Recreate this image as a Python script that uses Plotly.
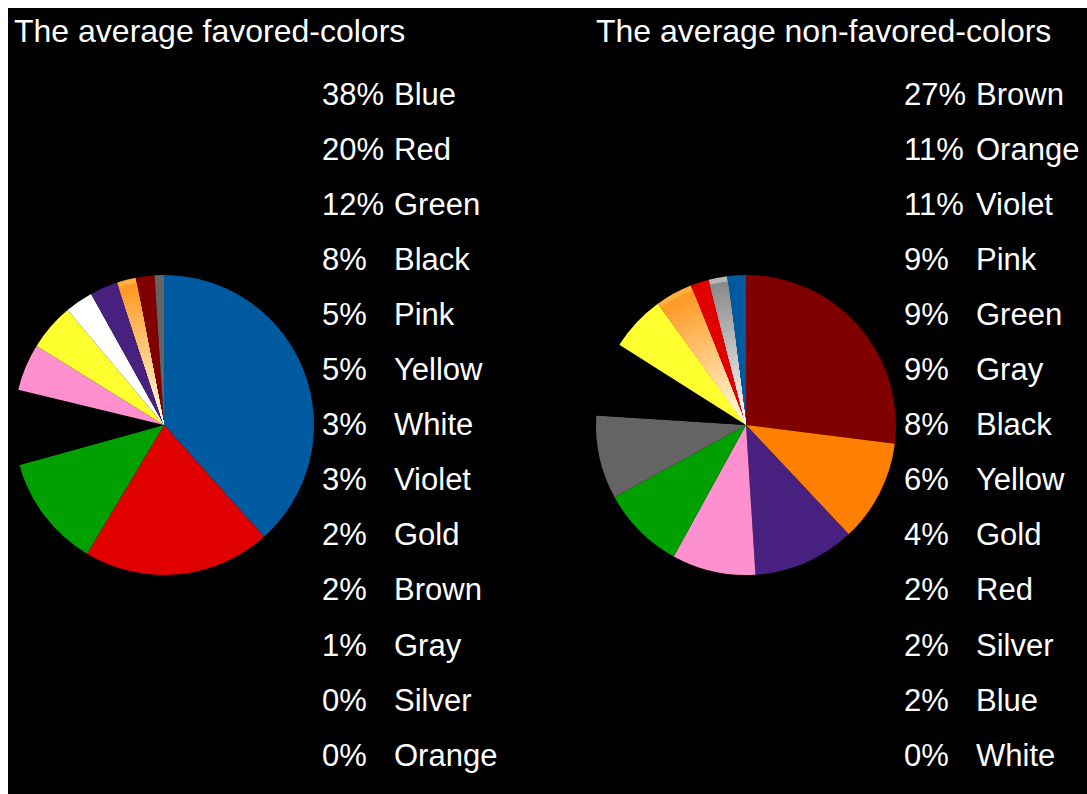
import plotly.graph_objects as go

W, H = 1087, 794

# ---- data ----
fav_labels = ["Blue", "Red", "Green", "Black", "Pink", "Yellow", "White",
              "Violet", "Gold", "Brown", "Gray", "Silver", "Orange"]
fav_values = [38, 20, 12, 8, 5, 5, 3, 3, 2, 2, 1, 0, 0]

non_labels = ["Brown", "Orange", "Violet", "Pink", "Green", "Gray", "Black",
              "Yellow", "Gold", "Red", "Silver", "Blue", "White"]
non_values = [27, 11, 11, 9, 9, 9, 8, 6, 4, 2, 2, 2, 0]

titles = ["The average favored-colors", "The average non-favored-colors"]

# ---- styles ----
color_map = {
    "Blue": "#005AA0", "Red": "#E00000", "Green": "#00A000", "Black": "#000000",
    "Pink": "#FF90D0", "Yellow": "#FFFF30", "White": "#FFFFFF", "Violet": "#482080",
    "Gold": "#FFB040", "Brown": "#800000", "Gray": "#646464", "Silver": "#B8B8B8",
    "Orange": "#FF8000",
}
gradients = {
    "Gold": ((255, 150, 30), (255, 255, 225)),
    "Silver": ((135, 135, 135), (255, 255, 255)),
}

FONT = "Liberation Sans, Arial, Helvetica, sans-serif"
FS = 31


def px(x):
    return x / W


def py(y):
    return 1 - y / H


fig = go.Figure()

pies = [
    (fav_labels, fav_values, 164, 425),
    (non_labels, non_values, 746, 425),
]
R = 150
NLAYERS = 30
for idx, (labels, values, cx, cy) in enumerate(pies):
    cols = [color_map[l] for l in labels]
    fig.add_trace(go.Pie(
        labels=labels, values=values, sort=False, direction="clockwise",
        rotation=0, marker=dict(colors=cols, line=dict(width=0)),
        textinfo="none", hoverinfo="label+percent", showlegend=False,
        domain=dict(x=[px(cx - R), px(cx + R)], y=[py(cy + R), py(cy - R)]),
    ))
    # gradient overlay layers for Gold/Silver slices
    for k in range(1, NLAYERS):
        r = R * (1 - k / NLAYERS)
        t = k / (NLAYERS - 1)
        lc = []
        for l in labels:
            if l in gradients:
                a, b = gradients[l]
                c = tuple(int(round(a[i] + (b[i] - a[i]) * t)) for i in range(3))
                lc.append("rgb(%d,%d,%d)" % c)
            else:
                lc.append("rgba(0,0,0,0)")
        fig.add_trace(go.Pie(
            labels=labels, values=values, sort=False, direction="clockwise",
            rotation=0, marker=dict(colors=lc, line=dict(width=0)),
            textinfo="none", hoverinfo="skip", showlegend=False,
            domain=dict(x=[px(cx - r), px(cx + r)], y=[py(cy + r), py(cy - r)]),
        ))

annotations = []
title_x = [12, 594]
for tx, t in zip(title_x, titles):
    annotations.append(dict(
        text=t, x=px(tx), y=py(31), xref="paper", yref="paper",
        xanchor="left", yanchor="middle", showarrow=False,
        font=dict(family=FONT, size=32, color="white"),
    ))

legend_cols = [(320, 392, fav_labels, fav_values), (902, 974, non_labels, non_values)]
for xp, xn, labels, values in legend_cols:
    for i, (l, v) in enumerate(zip(labels, values)):
        yc = 94 + i * 55.1
        annotations.append(dict(
            text="%d%%" % v, x=px(xp), y=py(yc), xref="paper", yref="paper",
            xanchor="left", yanchor="middle", showarrow=False,
            font=dict(family=FONT, size=FS, color="white"),
        ))
        annotations.append(dict(
            text=l, x=px(xn), y=py(yc), xref="paper", yref="paper",
            xanchor="left", yanchor="middle", showarrow=False,
            font=dict(family=FONT, size=FS, color="white"),
        ))

fig.update_layout(
    width=W, height=H, margin=dict(l=0, r=0, t=0, b=0),
    paper_bgcolor="white", plot_bgcolor="black",
    annotations=annotations,
    shapes=[dict(type="rect", xref="paper", yref="paper",
                 x0=px(8), x1=1, y0=0, y1=py(8),
                 fillcolor="black", line=dict(width=0), layer="below")],
)

fig.write_html("out.html")
